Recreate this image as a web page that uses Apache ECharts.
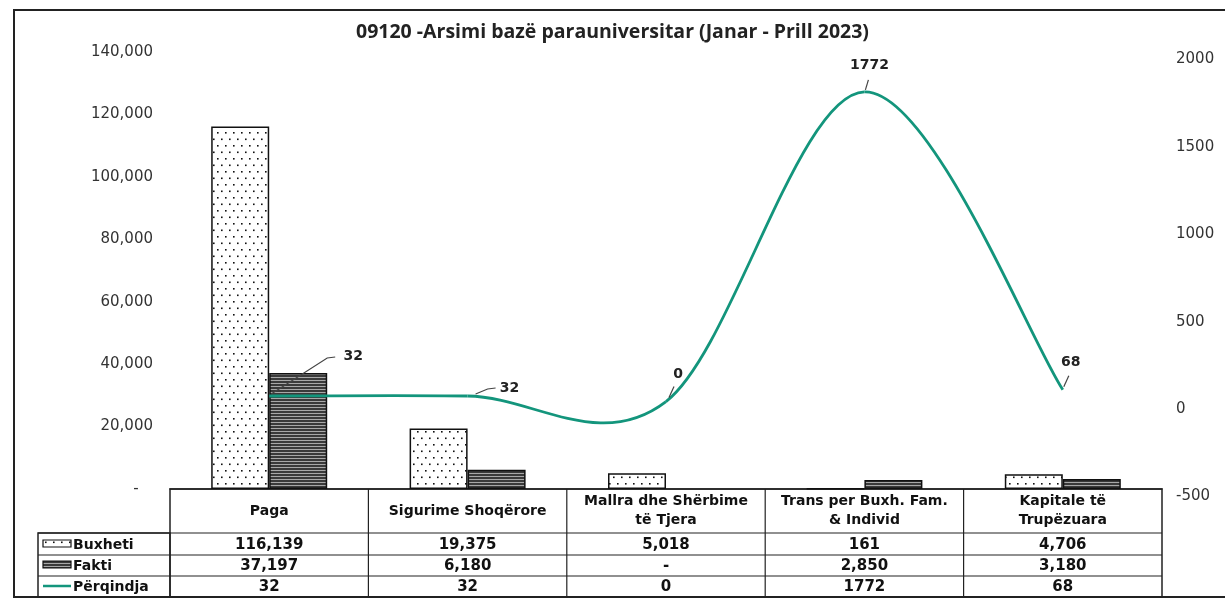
<!DOCTYPE html>
<html>
<head>
<meta charset="utf-8">
<script src="https://cdn.jsdelivr.net/npm/echarts@6/dist/echarts.min.js"></script>
<style>
  html, body { margin: 0; padding: 0; background: #fff; }
  #chart { width: 1225px; height: 600px; }
</style>
</head>
<body>
<div id="chart"></div>
<script>
// data
var categories = ['Paga', 'Sigurime Shoqërore', 'Mallra dhe Shërbime\ntë Tjera', 'Trans per Buxh. Fam.\n& Individ', 'Kapitale të\nTrupëzuara'];
var buxheti = [116139, 19375, 5018, 161, 4706];
var fakti = [37197, 6180, null, 2850, 3180];
var perqindja = [32, 32, 0, 1772, 68];
var leftTicks = [0, 20000, 40000, 60000, 80000, 100000, 120000, 140000];
var rightTicks = [-500, 0, 500, 1000, 1500, 2000];

// layout
var GL = 170, GR = 1162, GT = 52, GB = 489;
var colW = (GR - GL) / categories.length;
var lineColor = '#13957c';
// label offsets for line labels (text pos + leader points, relative to the point)
var labelOffsets = [
  { tx: 84, ty: -40, lead: [[2, -2], [58, -38], [66, -39]] },
  { tx: 42, ty: -8, lead: [[8, -2], [20, -7], [28, -8]] },
  { tx: 12, ty: -27, lead: [[3, -4], [8, -15]] },
  { tx: 5, ty: -26, lead: [[1, -2], [4, -12]] },
  { tx: 8, ty: -27, lead: [[1, -3], [6, -14]] }
];

function makeDots() {
  var c = document.createElement('canvas');
  c.width = 8; c.height = 13;
  var g = c.getContext('2d');
  g.fillStyle = '#fff'; g.fillRect(0, 0, 8, 13);
  g.fillStyle = '#111';
  g.fillRect(1, 2, 1.6, 1.6);
  g.fillRect(5, 8.5, 1.6, 1.6);
  return c;
}
function makeStripes() {
  var c = document.createElement('canvas');
  c.width = 4; c.height = 3;
  var g = c.getContext('2d');
  g.fillStyle = '#3a3a3a'; g.fillRect(0, 0, 4, 3);
  g.fillStyle = '#a8a8a8'; g.fillRect(0, 2, 4, 1);
  return c;
}
var dotsFill = { image: makeDots(), repeat: 'repeat' };
var stripesFill = { image: makeStripes(), repeat: 'repeat' };

function fmt(v) {
  if (v === null) return '-';
  return v.toLocaleString('en-US');
}

// data table graphics
var headFont = 'bold 14px "DejaVu Sans"';
var numFont = 'bold 15px "DejaVu Sans"';
var rowTops = [533, 555, 576, 597];
var g = [];
g.push({ type: 'rect', shape: { x: 14, y: 10, width: 1240, height: 587 }, style: { fill: 'none', stroke: '#222', lineWidth: 2 }, silent: true });
g.push({ type: 'rect', shape: { x: GL, y: GB, width: GR - GL, height: 597 - GB }, style: { fill: 'none', stroke: '#222', lineWidth: 1.5 } });
g.push({ type: 'rect', shape: { x: 38, y: 533, width: GL - 38, height: 597 - 533 }, style: { fill: 'none', stroke: '#222', lineWidth: 1.5 } });
for (var r = 0; r < 3; r++) {
  g.push({ type: 'line', shape: { x1: 38, y1: rowTops[r], x2: GR, y2: rowTops[r] }, style: { stroke: '#222', lineWidth: 1.2 } });
}
for (var i = 1; i < categories.length; i++) {
  var xv = GL + i * colW;
  g.push({ type: 'line', shape: { x1: xv, y1: GB, x2: xv, y2: 597 }, style: { stroke: '#222', lineWidth: 1.2 } });
}
var rows = [buxheti, fakti, perqindja];
for (var i = 0; i < categories.length; i++) {
  var cx = GL + (i + 0.5) * colW;
  g.push({ type: 'text', x: cx, y: 511, style: { text: categories[i], font: headFont, fill: '#111', align: 'center', verticalAlign: 'middle', lineHeight: 19 } });
  for (var r = 0; r < 3; r++) {
    var v = rows[r][i];
    var s = r === 2 ? String(v) : fmt(v);
    g.push({ type: 'text', x: cx, y: (rowTops[r] + rowTops[r + 1]) / 2 + 1, style: { text: s, font: numFont, fill: '#111', align: 'center', verticalAlign: 'middle' } });
  }
}
var rowNames = ['Buxheti', 'Fakti', 'Përqindja'];
for (var r = 0; r < 3; r++) {
  var cy = (rowTops[r] + rowTops[r + 1]) / 2;
  g.push({ type: 'text', x: 73, y: cy + 1, style: { text: rowNames[r], font: 'bold 14px "DejaVu Sans"', fill: '#111', align: 'left', verticalAlign: 'middle' } });
}
g.push({ type: 'rect', shape: { x: 43, y: 540, width: 28, height: 7 }, style: { fill: dotsFill, stroke: '#111', lineWidth: 1.2 } });
g.push({ type: 'rect', shape: { x: 43, y: 561, width: 28, height: 7 }, style: { fill: stripesFill, stroke: '#111', lineWidth: 1.2 } });
g.push({ type: 'line', shape: { x1: 43, y1: 586, x2: 71, y2: 586 }, style: { stroke: lineColor, lineWidth: 2.5 } });

function renderLine(params, api) {
  var i = params.dataIndex;
  var n = perqindja.length;
  var P = perqindja.map(function (v, k) { return api.coord([k, v]); });
  var children = [];
  if (i < n - 1) {
    var p0 = P[i - 1] || P[i], p1 = P[i], p2 = P[i + 1], p3 = P[i + 2] || P[i + 1];
    children.push({
      type: 'bezierCurve',
      shape: {
        x1: p1[0], y1: p1[1], x2: p2[0], y2: p2[1],
        cpx1: p1[0] + (p2[0] - p0[0]) / 6, cpy1: p1[1] + (p2[1] - p0[1]) / 6,
        cpx2: p2[0] - (p3[0] - p1[0]) / 6, cpy2: p2[1] - (p3[1] - p1[1]) / 6
      },
      style: { stroke: lineColor, lineWidth: 2.8, fill: 'none' },
      z2: 10
    });
  }
  var o = labelOffsets[i];
  var pts = o.lead.map(function (d) { return [P[i][0] + d[0], P[i][1] + d[1]]; });
  children.push({ type: 'polyline', shape: { points: pts }, style: { stroke: '#444', lineWidth: 1.2, fill: 'none' }, z2: 11 });
  children.push({ type: 'text', x: P[i][0] + o.tx, y: P[i][1] + o.ty, style: { text: String(perqindja[i]), font: 'bold 14px "DejaVu Sans"', fill: '#222', align: 'center', verticalAlign: 'middle' }, z2: 12 });
  return { type: 'group', children: children };
}

var chart = echarts.init(document.getElementById('chart'));
var option = {
  animation: false,
  backgroundColor: '#fff',
  title: {
    text: '09120 -Arsimi bazë parauniversitar (Janar - Prill 2023)',
    left: 'center', top: 17,
    textStyle: { fontFamily: 'Open Sans', fontWeight: 'bold', fontSize: 19.5, color: '#222' }
  },
  grid: { left: GL, right: 1225 - GR, top: GT, bottom: 600 - GB, containLabel: false },
  xAxis: {
    type: 'category',
    data: categories,
    axisLine: { show: true, lineStyle: { color: '#222', width: 1.5 } },
    axisTick: { show: false },
    axisLabel: { show: false },
    splitLine: { show: false }
  },
  yAxis: [
    {
      type: 'value', min: leftTicks[0], max: leftTicks[leftTicks.length - 1], interval: 20000,
      axisLine: { show: false }, axisTick: { show: false }, splitLine: { show: false },
      axisLabel: {
        margin: 17, fontFamily: 'DejaVu Sans', fontSize: 15, color: '#333',
        formatter: function (v) { return v === 0 ? '-   ' : v.toLocaleString('en-US'); }
      }
    },
    {
      type: 'value', min: rightTicks[0], max: rightTicks[rightTicks.length - 1], interval: 500,
      axisLine: { show: false }, axisTick: { show: false }, splitLine: { show: false },
      axisLabel: {
        margin: 14, fontFamily: 'DejaVu Sans', fontSize: 15, color: '#333', verticalAlign: 'top',
        formatter: function (v) { return String(v); }
      }
    }
  ],
  series: [
    {
      name: 'Buxheti', type: 'bar', data: buxheti, barWidth: 58, barGap: '0%',
      itemStyle: { color: dotsFill, borderColor: '#111', borderWidth: 1.5 }
    },
    {
      name: 'Fakti', type: 'bar', data: fakti, barWidth: 58,
      itemStyle: { color: stripesFill, borderColor: '#111', borderWidth: 1.5 }
    },
    {
      name: 'Përqindja', type: 'custom', yAxisIndex: 1, z: 5,
      data: perqindja.map(function (v, k) { return [k, v]; }),
      renderItem: renderLine
    }
  ],
  graphic: g
};
chart.setOption(option);
</script>
</body>
</html>
